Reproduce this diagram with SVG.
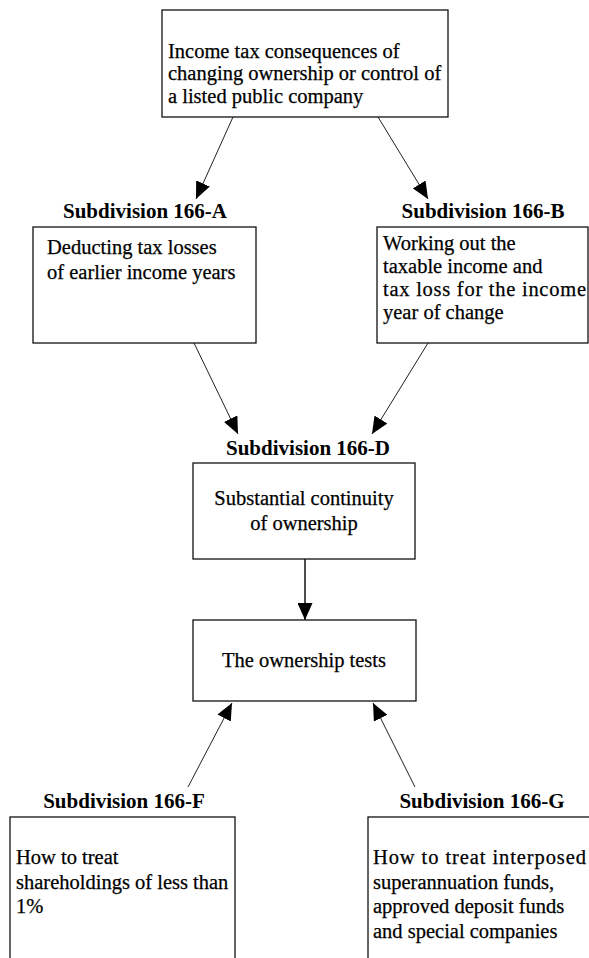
<svg xmlns="http://www.w3.org/2000/svg" width="589" height="958" viewBox="0 0 589 958">
<style>
.box{fill:#fff;stroke:#111;stroke-width:1.3}
.t{font-family:"Liberation Serif","Times New Roman",serif;font-size:20.5px;fill:#000;stroke:#000;stroke-width:0.25}
.h{font-family:"Liberation Serif","Times New Roman",serif;font-size:21px;font-weight:bold;fill:#000;text-anchor:middle}
.c{text-anchor:middle}
.ln{stroke:#222;stroke-width:1;fill:none;marker-end:url(#ah)}
</style>
<defs>
<marker id="ah" markerUnits="userSpaceOnUse" markerWidth="17" markerHeight="15" refX="17" refY="7.5" orient="auto">
<path d="M0,0 L17,7.5 L0,15 z" fill="#000"/>
</marker>
</defs>
<rect width="589" height="958" fill="#fff"/>
<g id="connectors">
<line class="ln" x1="233" y1="117" x2="196" y2="199"/>
<line class="ln" x1="378" y1="117" x2="428" y2="199"/>
<line class="ln" x1="194" y1="343" x2="238" y2="434"/>
<line class="ln" x1="428" y1="343" x2="372" y2="434"/>
<line class="ln" x1="305" y1="559" x2="305" y2="620" style="stroke-width:1.6"/>
<line class="ln" x1="188" y1="787" x2="232" y2="703"/>
<line class="ln" x1="415" y1="787" x2="373" y2="703"/>
</g>
<g id="top">
<rect class="box" x="162" y="10" width="286" height="107"/>
<text class="t" x="168" y="58">Income tax consequences of</text>
<text class="t" x="168" y="80">changing ownership or control of</text>
<text class="t" x="168" y="103">a listed public company</text>
</g>
<g id="sub166A">
<text class="h" x="145" y="218">Subdivision 166-A</text>
<rect class="box" x="33" y="227" width="223" height="116"/>
<text class="t" x="47" y="254">Deducting tax losses</text>
<text class="t" x="47" y="279">of earlier income years</text>
</g>
<g id="sub166B">
<text class="h" x="483" y="218">Subdivision 166-B</text>
<rect class="box" x="377" y="227" width="211" height="116"/>
<text class="t" x="383" y="250">Working out the</text>
<text class="t" x="383" y="273">taxable income and</text>
<text class="t" x="383" y="296" textLength="203" lengthAdjust="spacing">tax loss for the income</text>
<text class="t" x="383" y="319">year of change</text>
</g>
<g id="sub166D">
<text class="h" x="308" y="455">Subdivision 166-D</text>
<rect class="box" x="193" y="463" width="222" height="96"/>
<text class="t c" x="304" y="505">Substantial continuity</text>
<text class="t c" x="304" y="530">of ownership</text>
</g>
<g id="tests">
<rect class="box" x="193" y="620" width="223" height="81"/>
<text class="t c" x="304" y="667">The ownership tests</text>
</g>
<g id="sub166F">
<text class="h" x="124" y="808">Subdivision 166-F</text>
<rect class="box" x="10" y="817" width="225" height="150"/>
<text class="t" x="16" y="864">How to treat</text>
<text class="t" x="16" y="889">shareholdings of less than</text>
<text class="t" x="16" y="913">1%</text>
</g>
<g id="sub166G">
<text class="h" x="482" y="808">Subdivision 166-G</text>
<rect class="box" x="368" y="817" width="230" height="150"/>
<text class="t" x="373" y="864" textLength="213" lengthAdjust="spacing">How to treat interposed</text>
<text class="t" x="373" y="889">superannuation funds,</text>
<text class="t" x="373" y="913">approved deposit funds</text>
<text class="t" x="373" y="938">and special companies</text>
</g>
</svg>
